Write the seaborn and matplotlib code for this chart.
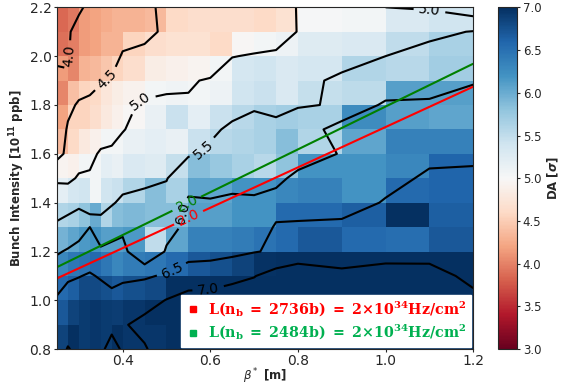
import numpy as np
import matplotlib
matplotlib.use("Agg")
import matplotlib.pyplot as plt
from matplotlib.lines import Line2D
from matplotlib.font_manager import FontProperties
import seaborn as sns

# scan grid: beta* [m] and bunch intensity [1e11 ppb]
beta_star = [0.25, 0.275, 0.30, 0.325, 0.35, 0.375, 0.40, 0.45, 0.50, 0.55,
             0.60, 0.65, 0.70, 0.75, 0.80, 0.90, 1.00, 1.10, 1.20]
bunch_intensity = [0.8, 0.9, 1.0, 1.1, 1.2, 1.3, 1.4, 1.5, 1.6, 1.7, 1.8, 1.9, 2.0, 2.1, 2.2]

# dynamic aperture [sigma], one list per bunch intensity
da_080 = [6.85, 7.02, 6.92, 6.95, 6.92, 7.15, 6.95, 6.95, 7.30, 7.30, 7.30, 7.30, 7.30, 7.30, 7.30, 7.30, 7.30, 7.30, 7.20]
da_090 = [6.70, 6.85, 6.92, 6.95, 6.92, 6.90, 6.95, 7.15, 7.30, 7.30, 7.30, 7.30, 7.30, 7.30, 7.30, 7.30, 7.30, 7.30, 7.20]
da_100 = [6.55, 6.65, 6.80, 6.80, 6.75, 6.70, 6.75, 6.80, 7.02, 7.20, 7.20, 7.30, 7.30, 7.40, 7.40, 7.40, 7.40, 7.40, 7.20]
da_110 = [6.30, 6.45, 6.48, 6.55, 6.45, 6.30, 6.40, 6.45, 6.55, 6.70, 6.75, 6.85, 6.98, 7.20, 7.30, 7.20, 7.50, 7.30, 6.80]
da_120 = [5.95, 6.05, 6.15, 6.20, 6.10, 6.10, 6.15, 5.50, 6.05, 6.35, 6.35, 6.40, 6.48, 6.55, 6.70, 6.55, 6.52, 6.70, 6.70]
da_130 = [5.60, 5.65, 5.80, 6.00, 5.60, 5.85, 5.90, 5.85, 5.85, 6.10, 6.10, 6.20, 6.20, 6.55, 6.55, 6.65, 7.00, 6.65, 6.60]
da_140 = [5.20, 5.35, 5.40, 5.05, 5.40, 5.45, 5.60, 5.85, 5.65, 6.05, 6.05, 6.20, 6.20, 6.30, 6.35, 6.20, 6.55, 6.60, 6.55]
da_150 = [4.95, 4.90, 5.05, 5.05, 5.20, 5.15, 5.30, 5.25, 5.48, 5.85, 5.75, 5.65, 5.55, 5.80, 6.20, 6.20, 6.30, 6.60, 6.60]
da_160 = [4.35, 4.60, 4.80, 4.90, 5.05, 5.05, 5.15, 5.20, 5.15, 5.45, 5.55, 5.60, 5.65, 5.85, 5.60, 6.05, 6.35, 6.35, 6.40]
da_170 = [4.20, 4.55, 4.55, 4.65, 4.80, 4.90, 4.98, 5.15, 5.45, 5.20, 5.45, 5.55, 5.65, 5.70, 5.65, 6.25, 6.10, 6.05, 6.10]
da_180 = [4.02, 4.40, 4.55, 4.60, 4.75, 4.85, 4.92, 5.05, 5.08, 5.05, 5.10, 5.40, 5.45, 5.30, 5.48, 5.52, 6.10, 6.10, 6.15]
da_190 = [4.15, 4.02, 4.30, 4.35, 4.45, 4.55, 4.65, 4.85, 4.90, 4.95, 5.05, 5.35, 5.40, 5.30, 5.35, 5.60, 5.55, 5.70, 5.97]
da_200 = [3.90, 3.98, 4.15, 4.20, 4.30, 4.30, 4.55, 4.65, 4.70, 4.70, 4.60, 4.98, 5.05, 5.10, 5.25, 5.30, 5.50, 5.65, 5.70]
da_210 = [3.85, 3.95, 4.15, 4.20, 4.25, 4.30, 4.30, 4.35, 4.60, 4.65, 4.65, 4.65, 4.60, 4.70, 5.02, 5.05, 5.30, 5.40, 5.52]
da_220 = [3.75, 3.85, 3.93, 4.10, 4.20, 4.25, 4.30, 4.40, 4.60, 4.65, 4.65, 4.65, 4.65, 4.80, 5.02, 5.05, 5.00, 4.95, 4.70]

da_levels = [4.0, 4.5, 5.0, 5.5, 6.0, 6.5, 7.0]

# constant luminosity lines (2e34 Hz/cm^2)
lumi_target = 2.0
lumi_beta = [0.25, 1.20]
red_nb = [1.09, 1.875]
green_nb = [1.136, 1.969]

legend_labels = [r'$\mathbf{L(n_b\ =\ 2736b)\ =\ 2{\times}10^{34}Hz/cm^2}$',
                 r'$\mathbf{L(n_b\ =\ 2484b)\ =\ 2{\times}10^{34}Hz/cm^2}$']
legend_colors = ['#ff0000', '#00b050']
line_colors = ['red', 'green']


def main():
    sns.set_style("ticks")
    plt.rcParams['font.family'] = ['DejaVu Sans']
    plt.rcParams['font.size'] = 10

    da = np.array([da_080, da_090, da_100, da_110, da_120, da_130, da_140, da_150,
                   da_160, da_170, da_180, da_190, da_200, da_210, da_220])
    bx = np.array(beta_star)
    ny = np.array(bunch_intensity)

    fig = plt.figure(figsize=(5.64, 3.85), dpi=100)
    ax = fig.add_axes([0.101, 0.093, 0.738, 0.888])
    cax = fig.add_axes([0.883, 0.093, 0.034, 0.888])

    cmap = sns.color_palette("RdBu", as_cmap=True)
    mesh = ax.pcolormesh(bx, ny, da[:-1, :-1], cmap=cmap, vmin=3.0, vmax=7.0, shading='flat')

    cs = ax.contour(bx, ny, da, levels=da_levels, colors='k', linewidths=1.5)
    ax.clabel(cs, fmt='%.1f', fontsize=10, inline=True,
              manual=[(0.277, 2.0), (0.371, 1.89), (0.451, 1.79), (1.1, 2.185),
                      (0.595, 1.6), (0.55, 1.35), (0.51, 1.13), (0.595, 1.06)])

    # luminosity contours
    fine_x = np.linspace(bx[0], bx[-1], 200)
    fine_y = np.linspace(ny[0], ny[-1], 200)
    FX, FY = np.meshgrid(fine_x, fine_y)
    label_pos = [(0.55, 1.34), (0.545, 1.40)]
    for nb, col, pos in zip([red_nb, green_nb], line_colors, label_pos):
        lumi = lumi_target * FY / np.interp(FX, lumi_beta, nb)
        lc = ax.contour(FX, FY, lumi, levels=[lumi_target], colors=col, linewidths=1.5)
        ax.clabel(lc, fmt='%.1f', fontsize=10, inline=True, manual=[pos])

    ax.set_xlim(0.25, 1.2)
    ax.set_ylim(0.8, 2.2)
    ax.set_xticks([0.4, 0.6, 0.8, 1.0, 1.2])
    ax.set_yticks(np.arange(0.8, 2.21, 0.2))
    ax.xaxis.set_major_formatter(plt.FormatStrFormatter('%.1f'))
    ax.yaxis.set_major_formatter(plt.FormatStrFormatter('%.1f'))
    ax.tick_params(length=2.5, pad=1.5)
    ax.tick_params(axis='x', pad=1.0)
    ax.set_xlabel(r'$\boldsymbol{\beta^*}$ [m]', fontweight='bold', fontsize=8.5, labelpad=-1.0)
    ax.set_ylabel(r'Bunch Intensity [$\mathbf{10^{11}}$ ppb]', fontweight='bold', fontsize=8.5, labelpad=1.5)

    handles = [Line2D([], [], ls='none', marker='s', ms=4, color=c) for c in legend_colors]
    ax.legend(handles, legend_labels, loc='lower right', labelcolor=legend_colors,
              prop=FontProperties(size=10.25, weight='bold', math_fontfamily='dejavuserif'),
              framealpha=1, fancybox=False, edgecolor='white', borderaxespad=0.15,
              handlelength=1.0, handletextpad=0.5, borderpad=0.35, labelspacing=0.3)

    cb = fig.colorbar(mesh, cax=cax, ticks=np.arange(3.0, 7.01, 0.5))
    cb.ax.yaxis.set_major_formatter(plt.FormatStrFormatter('%.1f'))
    cb.ax.tick_params(labelsize=8.5, length=2.5, pad=1.5)
    cb.set_label(r'DA [$\boldsymbol{\sigma}$]', fontweight='bold', fontsize=8.5, labelpad=3)

    fig.savefig('out.png', dpi=100)


if __name__ == '__main__':
    main()
